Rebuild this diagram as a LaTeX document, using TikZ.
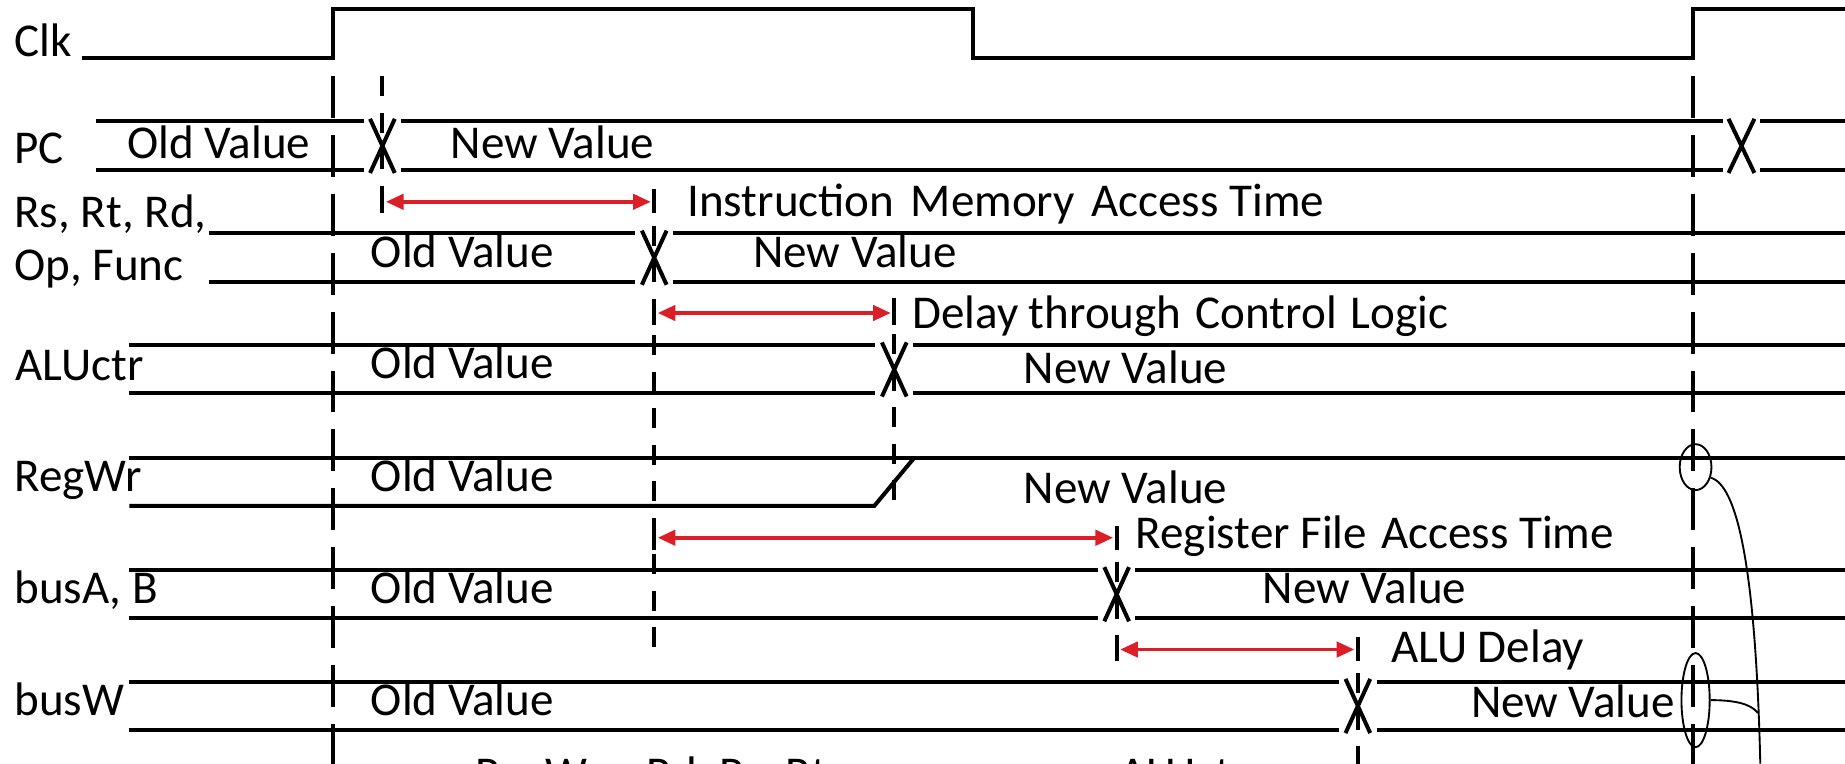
\documentclass[tikz,border=0pt]{standalone}
\usepackage{fontspec}
\setmainfont{Carlito}
\usetikzlibrary{arrows.meta,shapes.geometric}
\definecolor{arrowred}{RGB}{220,30,40}
\begin{document}
\begin{tikzpicture}[x=1pt,y=-1pt,
  sig/.style={line width=3.4pt},
  mdash/.style={line width=3.4pt, dash pattern=on 35.5pt off 14.5pt},
  sdash/.style={line width=3.4pt, dash pattern=on 17pt off 14pt},
  xmark/.style={line width=3.4pt},
  tickmark/.style={line width=3.4pt},
  delay/.style={draw=arrowred, line width=3pt, {Triangle[length=15pt,width=13pt]}-{Triangle[length=15pt,width=13pt]}},
  lbl/.style={anchor=base west, inner sep=0pt, font=\fontsize{40}{48}\selectfont},
  thinline/.style={line width=1.6pt},
  ring/.style={draw, ellipse, line width=1.6pt, inner sep=0pt}]
\useasboundingbox (0,0) rectangle (1568,649);
\clip (0,0) rectangle (1568,649);

% ---------- labels ----------
\node[lbl] (lclk) at (12,48) {Clk};
\node[lbl] (lpc) at (12,139) {PC};
\node[lbl] (lrs) at (12,193) {Rs, Rt, Rd,};
\node[lbl] (lop) at (12,238) {Op, Func};
\node[lbl] (lalu) at (13,323) {ALUctr};
\node[lbl] (lreg) at (12,418) {RegWr};
\node[lbl] (lbus) at (12,513) {busA, B};
\node[lbl] (lbw) at (12,608) {busW};

% ---------- clock ----------
\draw[sig] (70,49) -- (283,49) -- (283,8) -- (827,8) -- (827,49) -- (1439,49) -- (1439,8) -- (1568,8);

% ---------- main clock-edge dashed lines ----------
\coordinate (m1t) at (283,65); \coordinate (m1b) at (283,649);
\coordinate (m2t) at (1439,65); \coordinate (m2b) at (1439,649);
\draw[mdash] (m1t) -- (m1b);
\draw[mdash] (m2t) -- (m2b);

% ---------- secondary dashed lines ----------
\coordinate (d1t) at (325,65);  \coordinate (d1b) at (325,178);
\coordinate (d2t) at (556,161); \coordinate (d2b) at (556,550);
\coordinate (d3t) at (760,253); \coordinate (d3b) at (760,431);
\coordinate (d4t) at (949,447); \coordinate (d4b) at (949,558);
\coordinate (d5t) at (1154,541); \coordinate (d5b) at (1154,649);
\draw[sdash] (d1t) -- (d1b);
\draw[sdash] (d2t) -- (d2b);
\draw[sdash] (d3t) -- (d3b);
\draw[sdash] (d4t) -- (d4b);
\draw[sdash] (d5t) -- (d5b);

% ---------- PC ----------
\draw[sig] (82,103) -- (309,103) (341,103) -- (1464,103) (1496,103) -- (1568,103);
\draw[sig] (82,144.5) -- (309,144.5) (341,144.5) -- (1464,144.5) (1496,144.5) -- (1568,144.5);
\draw[xmark] (314.5,101) -- (335.5,147) (335.5,101) -- (314.5,147);
\draw[xmark] (1469,101) -- (1491,147) (1491,101) -- (1469,147);
\node[lbl] (pcold) at (108,135) {Old Value};
\node[lbl] (pcnew) at (383,135) {New Value};

% ---------- delay 1 ----------
\coordinate (a1l) at (325,171.5); \coordinate (a1r) at (556,171.5);
\draw[tickmark] (325,162) -- (325,181) (556,162) -- (556,181);
\draw[delay] ([xshift=3pt]a1l) -- ([xshift=-3pt]a1r);
\node[lbl] (t1) at (584,184) {Instruction\hspace{0.35em}Memory\hspace{0.35em}Access Time};

% ---------- Rs, Rt, Rd / Op, Func ----------
\draw[sig] (178,198) -- (540,198) (572,198) -- (1568,198);
\draw[sig] (178,240) -- (540,240) (572,240) -- (1568,240);
\draw[xmark] (545.5,196) -- (566.5,242) (566.5,196) -- (545.5,242);
\node[lbl] (rsold) at (315,227) {Old Value};
\node[lbl] (rsnew) at (640,227) {New Value};

% ---------- delay 2 ----------
\coordinate (a2l) at (556,266); \coordinate (a2r) at (760,266);
\draw[tickmark] (556,257) -- (556,276) (760,257) -- (760,276);
\draw[delay] ([xshift=3pt]a2l) -- ([xshift=-3pt]a2r);
\node[lbl] (t2) at (775,279) {Delay through\hspace{0.3em}Control\hspace{0.3em}Logic};

% ---------- ALUctr ----------
\draw[sig] (110,293) -- (744,293) (776,293) -- (1568,293);
\draw[sig] (110,334) -- (744,334) (776,334) -- (1568,334);
\draw[xmark] (749.5,291) -- (770.5,337) (770.5,291) -- (749.5,337);
\node[lbl] (aluold) at (315,322) {Old Value};
\node[lbl] (alunew) at (870,326) {New Value};

% ---------- RegWr ----------
\draw[sig] (110,389) -- (1568,389);
\draw[sig] (110,430) -- (743,430) -- (777,389);
\node[lbl] (regold) at (315,418) {Old Value};
\node[lbl] (regnew) at (870,428) {New Value};

% ---------- delay 3 ----------
\coordinate (a3l) at (556,457); \coordinate (a3r) at (949,457);
\draw[tickmark] (556,448) -- (556,467) (949,448) -- (949,467);
\draw[delay] ([xshift=3pt]a3l) -- ([xshift=-3pt]a3r);
\node[lbl] (t3) at (965,466) {Register File\hspace{0.3em}Access Time};

% ---------- busA, B ----------
\draw[sig] (110,484) -- (933,484) (965,484) -- (1568,484);
\draw[sig] (110,525) -- (933,525) (965,525) -- (1568,525);
\draw[xmark] (938.5,482) -- (959.5,528) (959.5,482) -- (938.5,528);
\node[lbl] (busold) at (315,513) {Old Value};
\node[lbl] (busnew) at (1073,513) {New Value};

% ---------- delay 4 ----------
\coordinate (a4l) at (949,552); \coordinate (a4r) at (1154,552);
\draw[tickmark] (949,543) -- (949,562) (1154,543) -- (1154,562);
\draw[delay] ([xshift=3pt]a4l) -- ([xshift=-3pt]a4r);
\node[lbl] (t4) at (1182,563) {ALU Delay};

% ---------- busW ----------
\draw[sig] (110,579.5) -- (1138,579.5) (1170,579.5) -- (1568,579.5);
\draw[sig] (110,620) -- (1138,620) (1170,620) -- (1568,620);
\draw[xmark] (1143.5,577) -- (1164.5,623) (1164.5,577) -- (1143.5,623);
\node[lbl] (bwold) at (315,608) {Old Value};
\node[lbl] (bwnew) at (1250,610) {New Value};

% ---------- write-point markers ----------
\node[ring, minimum width=27pt, minimum height=39pt] (e1) at (1441,397) {};
\node[ring, minimum width=24pt, minimum height=80pt] (e2) at (1441,595) {};
\coordinate (cb) at (1496,649);
\coordinate (cj) at (1494,606);
\draw[thinline] (e1.-35) .. controls (1476,412) and (1492,480) .. (cb);
\draw[thinline] (e2.east) .. controls (1474,595) and (1488,598) .. (cj);

% ---------- bottom (cut-off) text ----------
\node[lbl] (bt1) at (404,671) {RegWr,\hspace{0.77em}Rd, Rs, Rt};
\node[lbl] (bt2) at (951,671) {ALUctr};
\end{tikzpicture}
\end{document}
